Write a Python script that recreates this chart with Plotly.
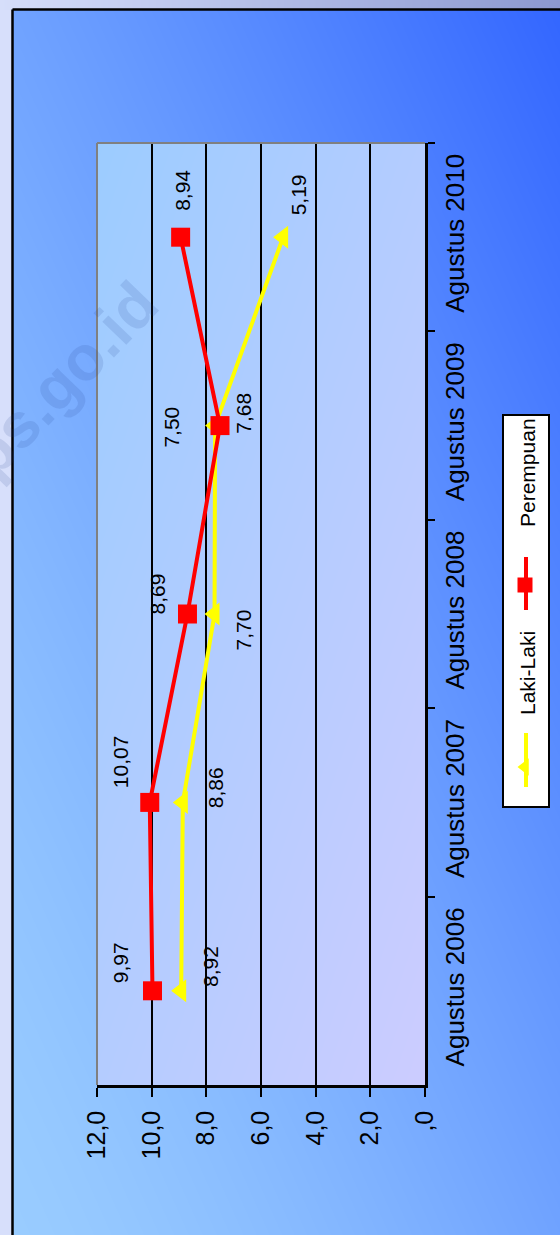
import numpy as np
import plotly.graph_objects as go
import zlib, struct, base64

# ---------------- data ----------------
categories = ["Agustus 2006", "Agustus 2007", "Agustus 2008", "Agustus 2009", "Agustus 2010"]
laki_laki = [8.92, 8.86, 7.70, 7.68, 5.19]
perempuan = [9.97, 10.07, 8.69, 7.50, 8.94]
value_ticks = [12, 10, 8, 6, 4, 2, 0]
value_tick_labels = ["12,0", "10,0", "8,0", "6,0", "4,0", "2,0", ",0"]
series_names = ["Laki-Laki", "Perempuan"]

# label offsets (px, screen right / screen down) – styling only
laki_label_off = [(30, -24), (33, -15), (28, 16), (29, -12), (15, -42)]
perem_label_off = [(-32, -28), (-29, -41), (-30, -20), (-48, 2), (2, -47)]

W, H = 560, 1235
PX0, PX1, PY0, PY1 = 97, 425, 143, 1085  # plot area in px
FONT = "Liberation Sans, Arial, sans-serif"


def fmt(v):
    return f"{v:.2f}".replace(".", ",")


# ---------------- background image ----------------
def png_uri(arr):
    arr = arr.astype(np.uint8)
    h, w, _ = arr.shape
    a = arr.astype(np.int16)
    f = a.copy()
    f[:, 1:, :] = (a[:, 1:, :] - a[:, :-1, :]) % 256
    f = f.astype(np.uint8).reshape(h, w * 3)
    raw = b"".join(b"\x01" + f[i].tobytes() for i in range(h))

    def chunk(t, d):
        c = struct.pack(">I", len(d)) + t + d
        return c + struct.pack(">I", zlib.crc32(t + d) & 0xFFFFFFFF)

    png = b"\x89PNG\r\n\x1a\n" + chunk(b"IHDR", struct.pack(">IIBBBBB", w, h, 8, 2, 0, 0, 0)) \
        + chunk(b"IDAT", zlib.compress(raw, 9)) + chunk(b"IEND", b"")
    return "data:image/png;base64," + base64.b64encode(png).decode()


yy, xx = np.mgrid[0:H, 0:W].astype(float)
img = np.zeros((H, W, 3))
img[:] = [215, 223, 251]
tt = (xx / W)[..., None]
top = (1 - tt) * np.array([214, 222, 250]) + tt * np.array([140, 152, 208])
mt = yy < 10
img[mt] = top[mt]
u = (xx - 12) / 548.0
v = (1235 - yy) / 1226.0
t = np.clip((u + v) / 2, 0, 1) ** 1.3
t = t[..., None]
slide = (1 - t) * np.array([153, 204, 255]) + t * np.array([51, 102, 255])
ms = (xx >= 12) & (yy >= 9)
img[ms] = slide[ms]
u = (xx - PX0) / (PX1 - PX0)
v = (yy - PY0) / (PY1 - PY0)
t = np.clip((u + v) / 2, 0, 1)[..., None]
pa = (1 - t) * np.array([156, 204, 255]) + t * np.array([204, 204, 255])
mp = (xx >= PX0) & (xx < PX1) & (yy >= PY0) & (yy < PY1)
img[mp] = pa[mp]
bg_uri = png_uri(np.round(img))

# ---------------- figure ----------------
fig = go.Figure()

fig.add_trace(go.Scatter(
    x=laki_laki, y=categories, mode="lines+markers", name=series_names[0],
    line=dict(color="#FFFF00", width=4),
    marker=dict(symbol="triangle-left", size=20, color="#FFFF00"),
    showlegend=False, cliponaxis=False))
fig.add_trace(go.Scatter(
    x=perempuan, y=categories, mode="lines+markers", name=series_names[1],
    line=dict(color="#FF0000", width=4),
    marker=dict(symbol="square", size=19, color="#FF0000"),
    showlegend=False, cliponaxis=False))

# legend glyph markers (overlay pixel axes)
fig.add_trace(go.Scatter(x=[525], y=[767], xaxis="x2", yaxis="y2", mode="markers",
                         marker=dict(symbol="triangle-left", size=15, color="#FFFF00"),
                         showlegend=False, hoverinfo="skip"))
fig.add_trace(go.Scatter(x=[525], y=[585], xaxis="x2", yaxis="y2", mode="markers",
                         marker=dict(symbol="square", size=15, color="#FF0000"),
                         showlegend=False, hoverinfo="skip"))

annotations = []
for vals, offs in ((laki_laki, laki_label_off), (perempuan, perem_label_off)):
    for c, val, (dx, dy) in zip(categories, vals, offs):
        annotations.append(dict(x=val, y=c, xref="x", yref="y", text=fmt(val), showarrow=False,
                                textangle=-90, xshift=dx, yshift=-dy,
                                font=dict(family=FONT, size=21, color="black")))

# legend texts
annotations.append(dict(x=527, y=673, xref="x2", yref="y2", text=series_names[0], showarrow=False,
                        textangle=-90, font=dict(family=FONT, size=21, color="black")))
annotations.append(dict(x=527, y=473, xref="x2", yref="y2", text=series_names[1], showarrow=False,
                        textangle=-90, font=dict(family=FONT, size=21, color="black")))
# watermark
annotations.append(dict(x=49, y=393, xref="x2", yref="y2", text="<b>bps.go.id</b>", showarrow=False,
                        textangle=-46, font=dict(family=FONT, size=63, color="rgba(30,60,140,0.13)")))

shapes = [
    # slide border
    dict(type="line", xref="x2", yref="y2", x0=12.5, x1=12.5, y0=9.5, y1=H + 5,
         line=dict(color="black", width=2.5)),
    dict(type="line", xref="x2", yref="y2", x0=12.5, x1=W + 5, y0=9.5, y1=9.5,
         line=dict(color="black", width=2.5)),
    # plot area gray frame (left/top)
    dict(type="line", xref="x domain", yref="y domain", x0=0, x1=0, y0=0, y1=1,
         line=dict(color="#808080", width=2), layer="above"),
    dict(type="line", xref="x domain", yref="y domain", x0=0, x1=1, y0=1, y1=1,
         line=dict(color="#808080", width=2), layer="above"),
    # legend box
    dict(type="rect", xref="x2", yref="y2", x0=503, x1=549, y0=415, y1=807,
         fillcolor="white", line=dict(color="black", width=2), layer="below"),
    dict(type="line", xref="x2", yref="y2", x0=526, x1=526, y0=733, y1=787,
         line=dict(color="#FFFF00", width=4)),
    dict(type="line", xref="x2", yref="y2", x0=526, x1=526, y0=557, y1=610,
         line=dict(color="#FF0000", width=4)),
]

fig.update_layout(
    width=W, height=H, autosize=False,
    margin=dict(l=0, r=0, t=0, b=0, pad=0, autoexpand=False),
    paper_bgcolor="rgba(0,0,0,0)", plot_bgcolor="rgba(0,0,0,0)",
    showlegend=False,
    images=[dict(source=bg_uri, xref="paper", yref="paper", x=0, y=1, sizex=1, sizey=1,
                 xanchor="left", yanchor="top", sizing="stretch", layer="below")],
    xaxis=dict(domain=[PX0 / W, PX1 / W], range=[12, 0], tickvals=value_ticks,
               ticktext=value_tick_labels, tickangle=-90, ticks="outside", ticklen=9,
               tickwidth=2, tickcolor="black", showline=True, linecolor="black", linewidth=2.5,
               showgrid=True, gridcolor="black", gridwidth=1.5, zeroline=False, anchor="y",
               ticklabelstandoff=4, automargin=False,
               tickfont=dict(family=FONT, size=25, color="black"), fixedrange=True),
    yaxis=dict(domain=[(H - PY1) / H, (H - PY0) / H], type="category",
               categoryorder="array", categoryarray=categories, range=[-0.5, 4.5],
               side="right", anchor="x", tickangle=-90, ticks="outside", tickson="boundaries",
               ticklen=7, tickwidth=2, tickcolor="black", showline=True, linecolor="black",
               linewidth=2.5, showgrid=False, zeroline=False, ticklabelstandoff=5,
               automargin=False,
               tickfont=dict(family=FONT, size=26, color="black"), fixedrange=True),
    xaxis2=dict(domain=[0, 1], range=[0, W], visible=False, anchor="y2", fixedrange=True,
                automargin=False),
    yaxis2=dict(domain=[0, 1], range=[H, 0], visible=False, anchor="x2", fixedrange=True,
                automargin=False),
    annotations=annotations,
    shapes=shapes,
)

fig.write_html(
    "out.html",
    config={"displayModeBar": False},
    post_script="document.body.style.margin='0';document.body.style.padding='0';"
                "document.body.style.overflow='hidden';"
                "document.documentElement.style.overflow='hidden';",
)
